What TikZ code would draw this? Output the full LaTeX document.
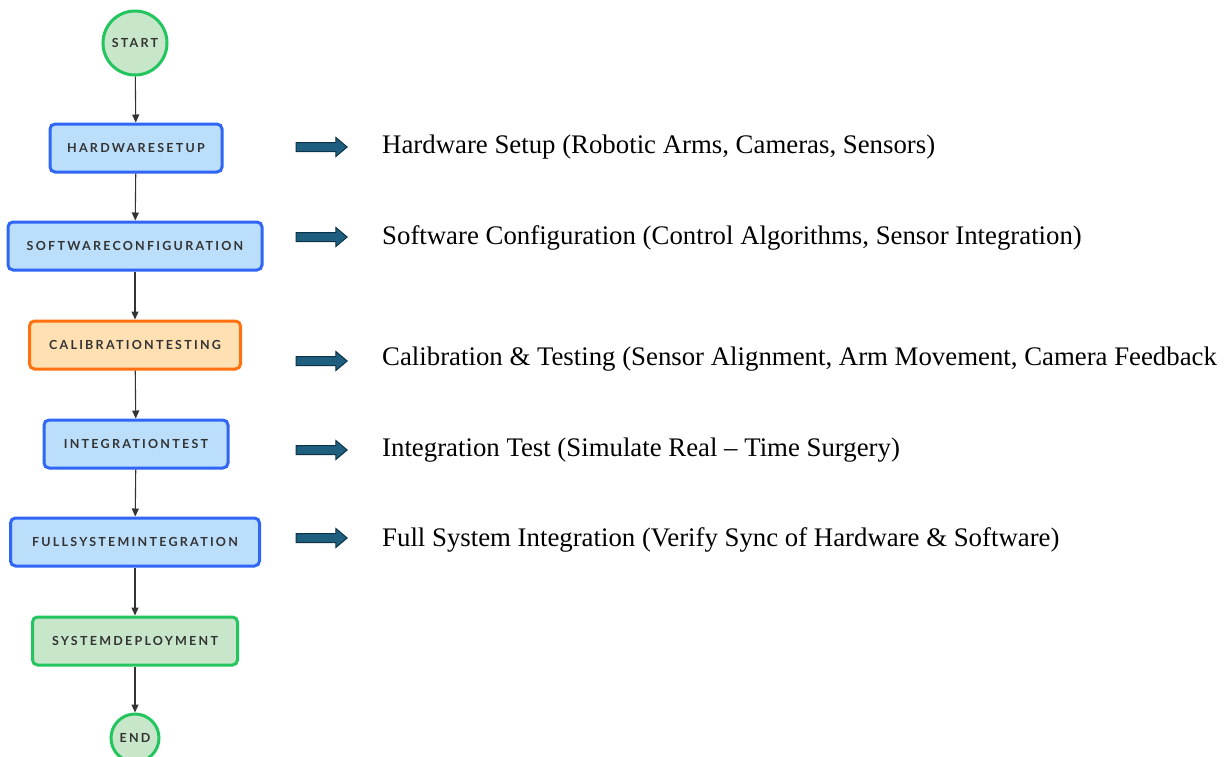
\documentclass[tikz,border=0pt]{standalone}
\usepackage{fontspec}
\setmainfont{Liberation Serif}
\newfontfamily\boxfont{Lato}[LetterSpace=18]
\usetikzlibrary{shapes.arrows,arrows.meta}
\definecolor{bluefill}{HTML}{BBDEFB}
\definecolor{blueedge}{HTML}{2F66F5}
\definecolor{orangefill}{HTML}{FFE0B2}
\definecolor{orangeedge}{HTML}{FF700F}
\definecolor{greenfill}{HTML}{C8E6C9}
\definecolor{greenedge}{HTML}{22C55E}
\definecolor{labelgray}{HTML}{333333}
\definecolor{tealfill}{HTML}{1E5F80}
\definecolor{tealedge}{HTML}{0E3346}
\tikzset{
  x=1pt, y=-1pt,
  stepbox/.style={draw=blueedge, fill=bluefill, line width=3pt, rounded corners=5pt,
    minimum height=48pt, inner xsep=0pt, text=labelgray,
    font=\boxfont\bfseries\fontsize{12.5}{14}\selectfont},
  calbox/.style={stepbox, draw=orangeedge, fill=orangefill},
  donebox/.style={stepbox, draw=greenedge, fill=greenfill},
  endpoint/.style={circle, draw=greenedge, fill=greenfill, line width=3pt, inner sep=0pt,
    text=labelgray, font=\boxfont\bfseries\fontsize{12.5}{14}\selectfont},
  flow/.style={draw=labelgray, line width=1.1pt, -{Triangle[length=8pt,width=7pt]}},
  pointer/.style={single arrow, draw=tealedge, fill=tealfill, line width=1pt,
    minimum height=51pt, inner xsep=0pt, inner ysep=4pt, single arrow head extend=5pt,
    single arrow tip angle=80},
  desc/.style={anchor=west, inner sep=0pt, text=black, font=\fontsize{26.8}{32}\selectfont}
}
\begin{document}
\begin{tikzpicture}
\useasboundingbox (0,0) rectangle (1224,756);
% process column
\node[endpoint, minimum size=64pt] (start) at (135,43) {START};
\node[stepbox, minimum width=172pt] (hw) at (136,148) {HARDWARESETUP};
\node[stepbox, minimum width=254pt] (sw) at (135,246) {SOFTWARECONFIGURATION};
\node[calbox, minimum width=211pt] (cal) at (135,345) {CALIBRATIONTESTING};
\node[stepbox, minimum width=184pt] (it) at (136,444) {INTEGRATIONTEST};
\node[stepbox, minimum width=249pt] (fs) at (135,542) {FULLSYSTEMINTEGRATION};
\node[donebox, minimum width=205pt] (dep) at (135,641) {SYSTEMDEPLOYMENT};
\node[endpoint, minimum size=48pt] (end) at (135,738) {END};
\draw[flow] (start) -- (hw);
\draw[flow] (hw) -- (sw);
\draw[flow] (sw) -- (cal);
\draw[flow] (cal) -- (it);
\draw[flow] (it) -- (fs);
\draw[flow] (fs) -- (dep);
\draw[flow] (dep) -- (end);
% descriptions
\node[pointer] (p1) at (319,147) {};
\node[pointer] (p2) at (319,237) {};
\node[pointer] (p3) at (319,361) {};
\node[pointer] (p4) at (319,450) {};
\node[pointer] (p5) at (319,538) {};
\node[desc] (d1) at (382,147) {Hardware Setup (Robotic Arms, Cameras, Sensors)};
\node[desc] (d2) at (382,238) {Software Configuration (Control Algorithms, Sensor Integration)};
\node[desc] (d3) at (382,359) {Calibration \& Testing (Sensor Alignment, Arm Movement, Camera Feedback};
\node[desc] (d4) at (382,450) {Integration Test (Simulate Real – Time Surgery)};
\node[desc] (d5) at (382,540) {Full System Integration (Verify Sync of Hardware \& Software)};
\end{tikzpicture}
\end{document}
